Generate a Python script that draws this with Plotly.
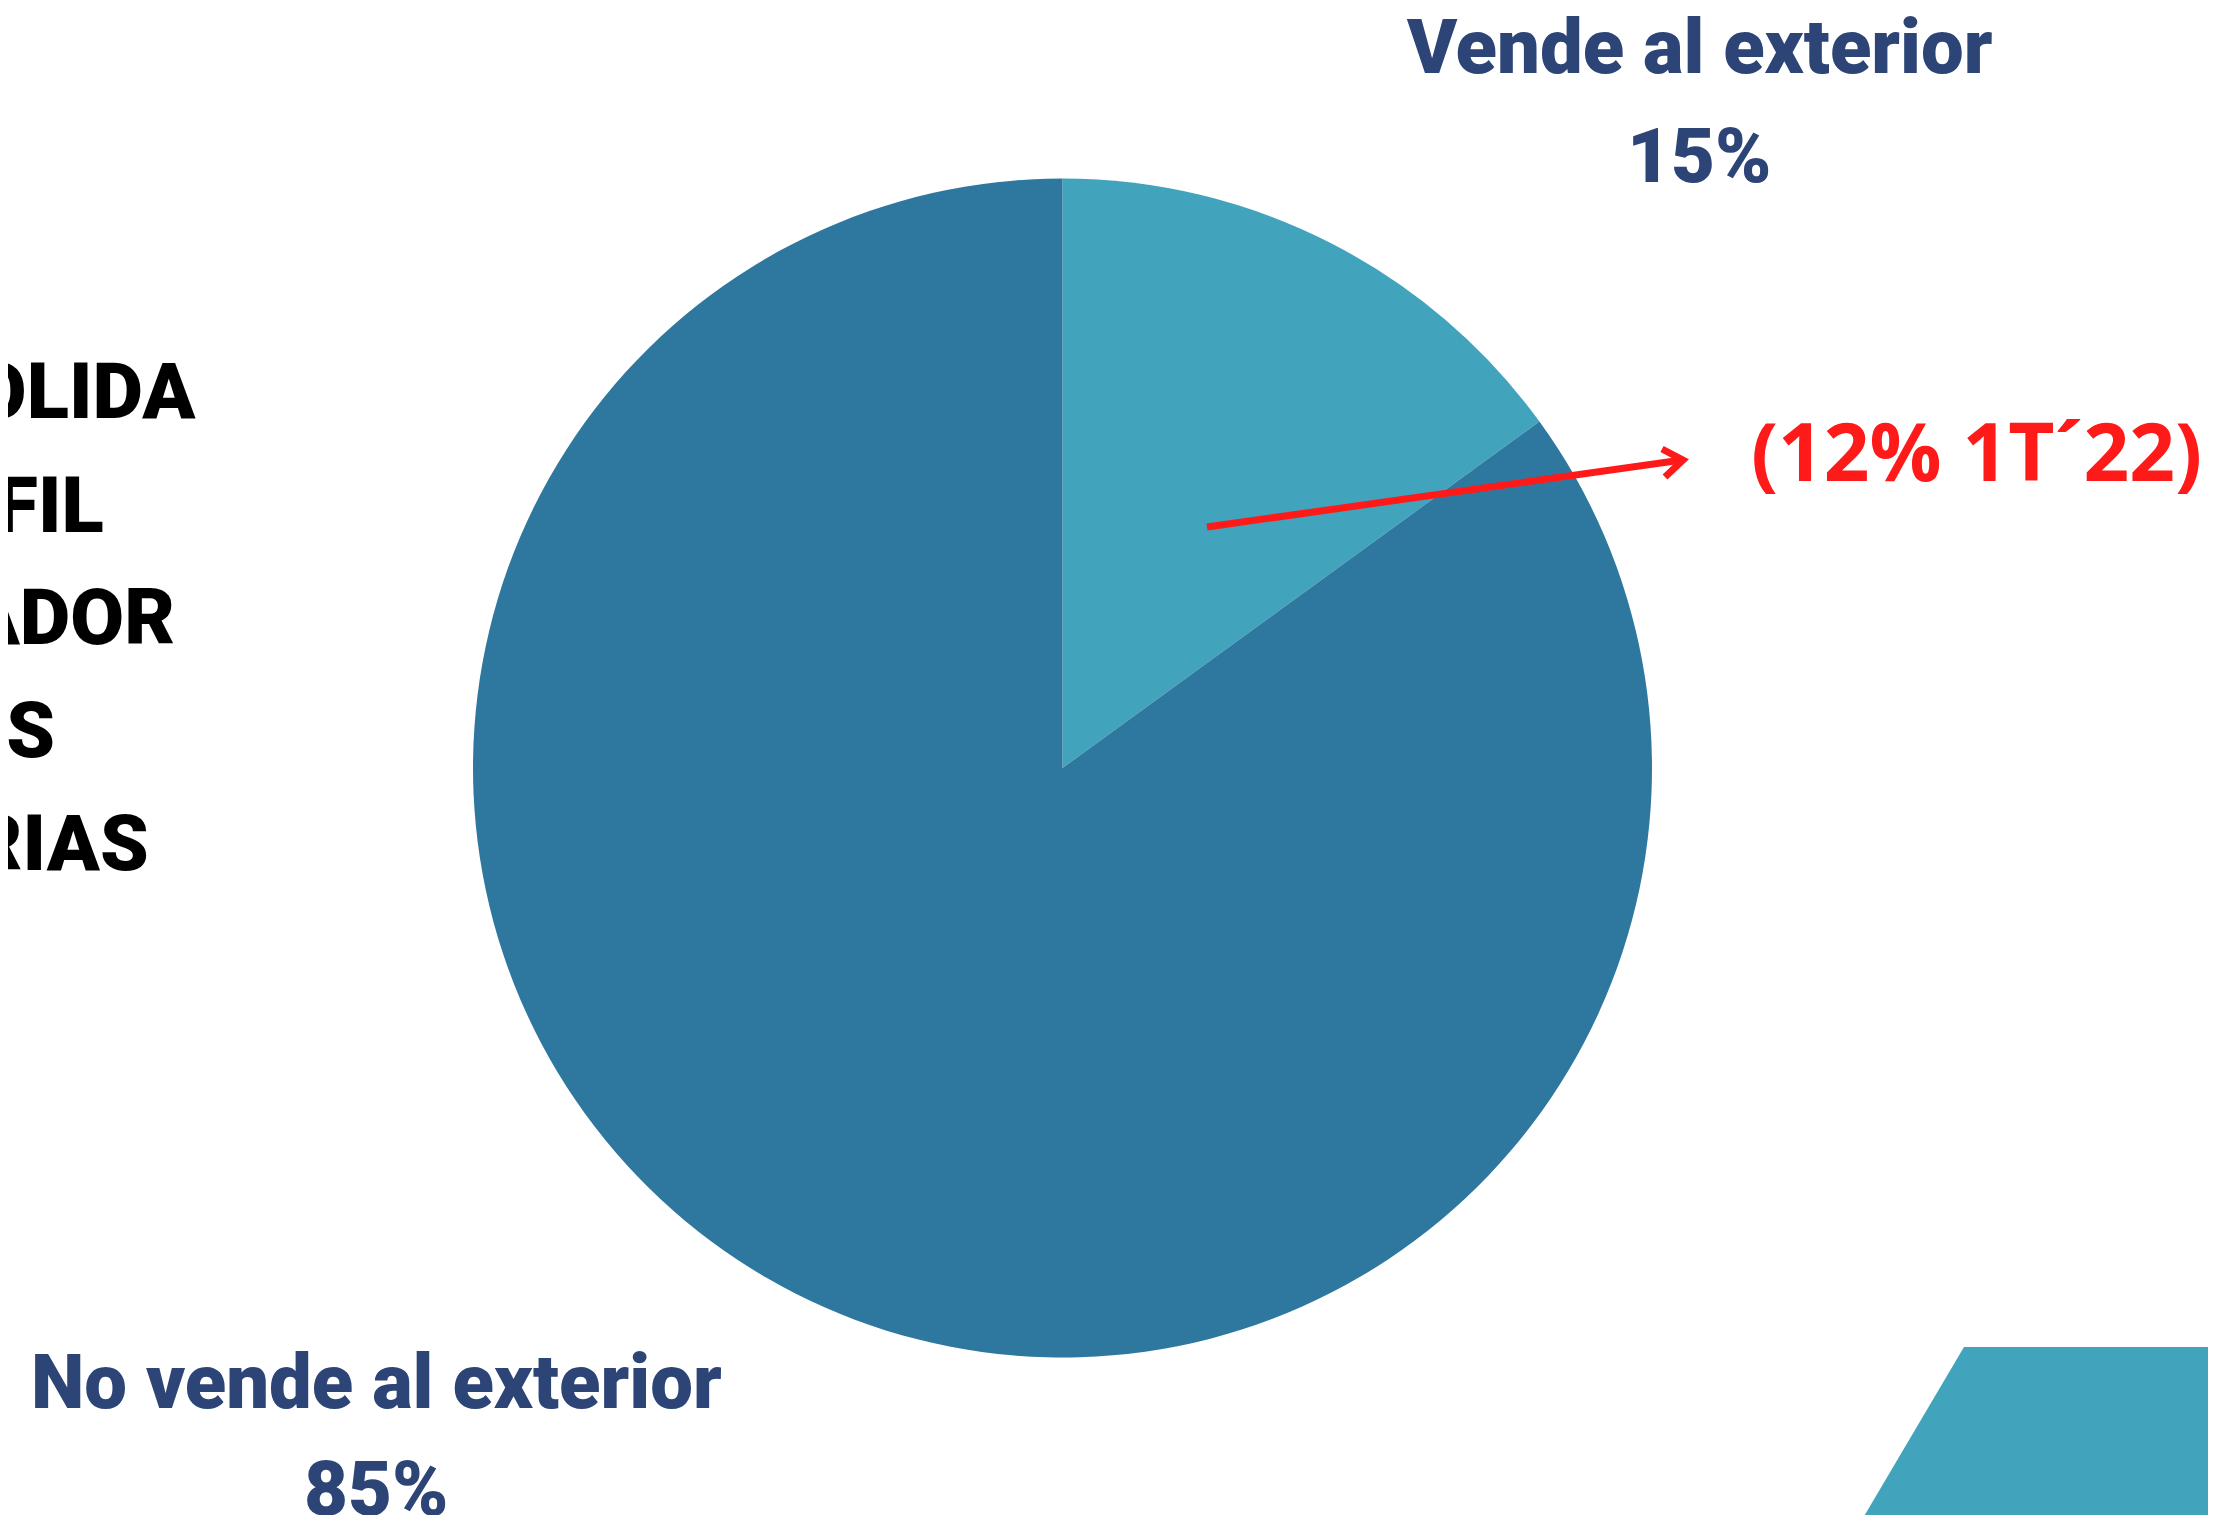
import plotly.graph_objects as go

# ---- data ----
labels = ["Vende al exterior", "No vende al exterior"]
values = [15, 85]
slice_colors = ["#41A3BC", "#2E78A0"]
note_text = "(12% 1T\u00b422)"
side_words = ["SOLIDA", "PERFIL", "EXPORTADOR", "EMPRESAS", "INDUSTRIAS"]

# page body keeps an 8px default margin, so the figure is sized to fill the rest of the window
OFF = 8
W, H = 2216 - OFF, 1515 - OFF
NAVY = "#2D4477"
RED = "#FF1A1A"


def px(x):
    return (x - OFF) / W


def py(y):
    return 1 - (y - OFF) / H


fig = go.Figure()
fig.add_trace(go.Pie(
    labels=labels, values=values, sort=False, direction="clockwise", rotation=0,
    marker=dict(colors=slice_colors, line=dict(width=0)),
    textinfo="none", hoverinfo="label+percent", showlegend=False,
    domain=dict(x=[px(473), px(1652)], y=[py(1358), py(178)]),
))

label_font = dict(family="Roboto, 'Liberation Sans', sans-serif", size=76, color=NAVY, weight=900)
ann = []
# top-right label (first slice)
ann.append(dict(x=px(1699), y=py(47), text=labels[0], font=label_font))
ann.append(dict(x=px(1699), y=py(156), text=f"{values[0]}%", font=label_font))
# bottom-left label (second slice)
ann.append(dict(x=px(376), y=py(1382), text=labels[1], font=label_font))
ann.append(dict(x=px(376), y=py(1489), text=f"{values[1]}%", font=label_font))
# red note
ann.append(dict(x=px(1976), y=py(450), text=note_text,
                font=dict(family="'Open Sans', 'Noto Sans', sans-serif", size=80, color=RED, weight="bold")))
# side words cut at left edge
rights = [198, 106, 177, 57, 151]
ys = [392, 505, 617, 730, 843]
for w, r, yy in zip(side_words, rights, ys):
    ann.append(dict(x=px(r), y=py(yy), text=w, xanchor="right",
                    font=dict(family="Roboto, 'Liberation Sans', sans-serif", size=78, color="#000000", weight=900)))

for a in ann:
    a.update(xref="paper", yref="paper", showarrow=False, yanchor=a.get("yanchor", "middle"),
             xanchor=a.get("xanchor", "center"))

shapes = [
    # red arrow shaft
    dict(type="line", xref="paper", yref="paper", x0=px(1207), y0=py(527), x1=px(1682), y1=py(460),
         line=dict(color=RED, width=7)),
    # arrow head
    dict(type="path", xref="paper", yref="paper",
         path=f"M {px(1662)} {py(449)} L {px(1683)} {py(460)} L {px(1665)} {py(477)}",
         line=dict(color=RED, width=7)),
    # decorative parallelogram bottom-right
    dict(type="path", xref="paper", yref="paper",
         path=f"M {px(1964)} {py(1347)} L {px(2240)} {py(1347)} L {px(2240)} {py(1540)} L {px(1850)} {py(1540)} Z",
         fillcolor="#41A3BC", line=dict(width=0), layer="below"),
]

fig.update_layout(
    width=W, height=H, margin=dict(l=0, r=0, t=0, b=0),
    paper_bgcolor="white", plot_bgcolor="white",
    annotations=ann, shapes=shapes,
)

fig.write_html("out.html")
